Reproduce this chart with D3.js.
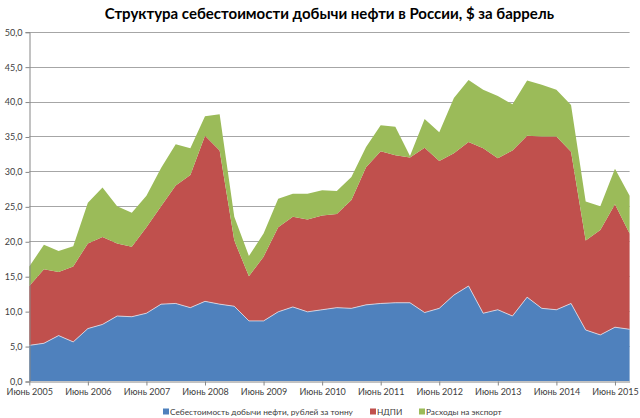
<!DOCTYPE html>
<html>
<head>
<meta charset="utf-8">
<script src="https://cdn.jsdelivr.net/npm/d3@7"></script>
<style>
  body { margin: 0; background: #fff; }
  text { font-family: Lato, "Open Sans", sans-serif; }
</style>
</head>
<body>
<div class="chart"></div>
<script>
// quarterly points, June 2005 .. September 2015
var quarters = [
    '2005-06', '2005-09', '2005-12', '2006-03', '2006-06', '2006-09', '2006-12', '2007-03',
    '2007-06', '2007-09', '2007-12', '2008-03', '2008-06', '2008-09', '2008-12', '2009-03',
    '2009-06', '2009-09', '2009-12', '2010-03', '2010-06', '2010-09', '2010-12', '2011-03',
    '2011-06', '2011-09', '2011-12', '2012-03', '2012-06', '2012-09', '2012-12', '2013-03',
    '2013-06', '2013-09', '2013-12', '2014-03', '2014-06', '2014-09', '2014-12', '2015-03',
    '2015-06', '2015-09'
];

var tickLabels = ['Июнь 2005', 'Июнь 2006', 'Июнь 2007', 'Июнь 2008', 'Июнь 2009', 'Июнь 2010',
    'Июнь 2011', 'Июнь 2012', 'Июнь 2013', 'Июнь 2014', 'Июнь 2015'];

var cost = [5.1, 5.4, 6.5, 5.6, 7.5, 8.1, 9.3, 9.2, 9.7, 11.0, 11.1, 10.5, 11.4, 11.0, 10.7, 8.6,
    8.6, 9.9, 10.6, 9.9, 10.2, 10.5, 10.4, 10.9, 11.1, 11.2, 11.2, 9.8, 10.4, 12.3, 13.6, 9.7,
    10.2, 9.3, 12.0, 10.4, 10.2, 11.1, 7.3, 6.6, 7.7, 7.4];

var ndpi = [8.5, 10.6, 9.1, 10.8, 12.2, 12.5, 10.4, 10.0, 12.3, 14.0, 16.9, 19.0, 23.7, 22.0, 9.4, 6.4,
    9.2, 12.1, 12.9, 13.2, 13.5, 13.4, 15.5, 19.7, 21.8, 21.1, 20.8, 23.6, 21.1, 20.3, 20.6, 23.6,
    21.7, 23.7, 23.1, 24.6, 24.8, 21.7, 12.8, 15.0, 17.6, 13.7];

var exportCost = [2.8, 3.5, 3.0, 2.9, 5.8, 7.1, 5.3, 4.9, 4.5, 5.5, 5.9, 3.8, 2.8, 5.2, 3.4, 2.9,
    3.3, 4.1, 3.3, 3.7, 3.6, 3.3, 3.3, 2.9, 3.7, 4.1, 0.2, 4.1, 4.1, 7.9, 8.9, 8.4,
    8.9, 6.6, 7.9, 7.4, 6.7, 6.7, 5.6, 3.4, 5.1, 5.4];

var seriesNames = ['Себестоимость добычи нефти, рублей за тонну', 'НДПИ', 'Расходы на экспорт'];
var seriesColors = ['#4f81bd', '#c0504d', '#9bbb59'];

var width = 640, height = 418;
var plot = { left: 29.3, right: 629.6, top: 31.7, bottom: 381 };

var svg = d3.select('.chart')
    .append('svg')
    .attr('width', width)
    .attr('height', height);

var rows = quarters.map(function(q, i) {
    return { q: q, a: cost[i], b: ndpi[i], c: exportCost[i] };
});

var stack = d3.stack().keys(['a', 'b', 'c']);
var layers = stack(rows);

var x = d3.scalePoint()
    .domain(quarters)
    .range([plot.left, plot.right]);

var y = d3.scaleLinear()
    .domain([0, 50])
    .range([plot.bottom, plot.top]);

var ru = d3.formatLocale({ decimal: ',', thousands: ' ', grouping: [3], currency: ['', ' $'] });
var fmt = ru.format('.1f');

// gridlines
svg.append('g')
    .selectAll('line')
    .data(d3.range(5, 51, 5))
    .enter()
    .append('line')
    .attr('x1', plot.left)
    .attr('x2', plot.right)
    .attr('y1', function(d) { return Math.round(y(d)) + 0.5; })
    .attr('y2', function(d) { return Math.round(y(d)) + 0.5; })
    .attr('stroke', '#a6a6a6')
    .attr('stroke-width', 1);

var area = d3.area()
    .x(function(d) { return x(d.data.q); })
    .y0(function(d) { return y(d[0]); })
    .y1(function(d) { return y(d[1]); });

svg.append('g')
    .selectAll('path')
    .data(layers)
    .enter()
    .append('path')
    .attr('d', area)
    .attr('fill', function(d, i) { return seriesColors[i]; });

// thin light edge on top of the blue area
var line = d3.line()
    .x(function(d) { return x(d.data.q); })
    .y(function(d) { return y(d[1]); });

svg.append('path')
    .attr('d', line(layers[0]))
    .attr('fill', 'none')
    .attr('stroke', '#dce3f0')
    .attr('stroke-width', 0.8);

// y axis
var yAxis = d3.axisLeft(y)
    .tickValues(d3.range(0, 51, 5))
    .tickFormat(fmt)
    .tickSize(4)
    .tickPadding(3);

var gy = svg.append('g')
    .attr('transform', 'translate(' + (Math.round(plot.left) + 0.5) + ',0.5)')
    .call(yAxis);
gy.select('.domain').attr('stroke', '#868686');
gy.selectAll('.tick line').attr('stroke', '#868686');
gy.selectAll('.tick text')
    .attr('fill', '#404040')
    .style('font-size', '9px');

// x axis
var tickQuarters = quarters.filter(function(q) { return q.slice(5) === '06'; });

var xAxis = d3.axisBottom(x)
    .tickValues(tickQuarters)
    .tickFormat(function(q, i) { return tickLabels[i]; })
    .tickSize(4)
    .tickPadding(3)
    .tickSizeOuter(0);

var gx = svg.append('g')
    .attr('transform', 'translate(0,' + (Math.round(plot.bottom) + 0.5) + ')')
    .call(xAxis);
gx.select('.domain').attr('stroke', '#868686');
gx.selectAll('.tick line').attr('stroke', '#868686');
gx.selectAll('.tick text')
    .attr('fill', '#404040')
    .style('font-size', '9px');

// title
svg.append('text')
    .attr('x', (plot.left + plot.right) / 2)
    .attr('y', 19)
    .attr('text-anchor', 'middle')
    .style('font-size', '15px')
    .style('font-weight', 'bold')
    .attr('fill', '#000')
    .text('Структура себестоимости добычи нефти в России, $ за баррель');

// legend
var legendX = [163, 370, 419];
var legend = svg.append('g')
    .selectAll('g')
    .data(seriesNames)
    .enter()
    .append('g')
    .attr('transform', function(d, i) { return 'translate(' + legendX[i] + ',412)'; });

legend.append('rect')
    .attr('x', 0)
    .attr('y', -3.5)
    .attr('width', 6)
    .attr('height', 6)
    .attr('fill', function(d, i) { return seriesColors[i]; });

legend.append('text')
    .attr('x', 7)
    .attr('y', 3)
    .attr('fill', '#404040')
    .style('font-size', '8.3px')
    .text(function(d) { return d; });
</script>
</body>
</html>
